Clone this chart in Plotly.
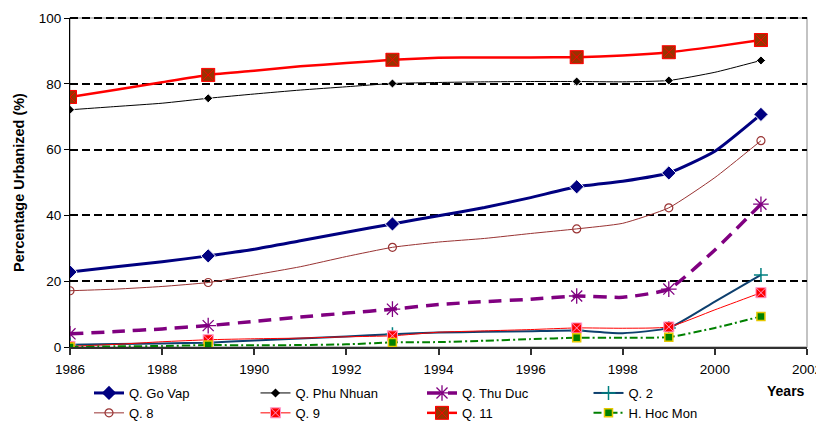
import plotly.graph_objects as go

years = list(range(1986, 2002))
marker_years = [1986, 1989, 1993, 1997, 1999, 2001]

go_vap = [22.8, 24.4, 25.9, 27.7, 29.7, 32.3, 34.9, 37.4, 39.9, 42.4, 45.4, 48.7, 50.4, 52.9, 59.5, 70.7]
phu_nhuan = [72.1, 73.1, 74.1, 75.6, 76.9, 78.1, 79.1, 80.1, 80.4, 80.6, 80.7, 80.7, 80.6, 81.0, 83.5, 87.1]
thu_duc = [4.0, 4.7, 5.5, 6.5, 7.8, 9.1, 10.3, 11.5, 12.9, 13.8, 14.5, 15.5, 15.1, 17.6, 29.5, 43.4]
q2 = [0.7, 0.9, 1.1, 1.3, 2.0, 2.6, 3.2, 3.9, 4.4, 4.6, 4.8, 5.0, 4.2, 5.8, 13.8, 21.9]
q8 = [17.1, 17.6, 18.4, 19.6, 21.9, 24.4, 27.5, 30.3, 31.9, 33.0, 34.5, 35.9, 37.6, 42.3, 51.5, 62.7]
q9 = [0.2, 0.8, 1.6, 2.2, 2.5, 2.7, 3.1, 3.4, 4.5, 4.9, 5.3, 5.8, 5.7, 6.1, 11.3, 16.5]
q11 = [76.0, 78.2, 80.5, 82.7, 84.0, 85.3, 86.3, 87.3, 87.9, 88.0, 88.0, 88.1, 88.6, 89.6, 91.3, 93.3]
hoc_mon = [0.0, 0.2, 0.3, 0.6, 0.5, 0.6, 0.8, 1.4, 1.5, 1.9, 2.4, 2.8, 2.8, 3.0, 5.8, 9.3]

series = [
    ("Q. Go Vap", go_vap, dict(color="#000080", width=3), dict(symbol="diamond", size=11, color="#000080")),
    ("Q. Phu Nhuan", phu_nhuan, dict(color="#000000", width=1), dict(symbol="diamond", size=7, color="#000000")),
    ("Q. Thu Duc", thu_duc, dict(color="#800080", width=3.5, dash="13px,8px"),
     dict(symbol="asterisk-open", size=13, color="#800080", line=dict(color="#800080", width=1.3))),
    ("Q. 2", q2, dict(color="#0d3f6e", width=2),
     dict(symbol="cross-thin-open", size=10, color="#008080", line=dict(color="#008080", width=1.5))),
    ("Q. 8", q8, dict(color="#993333", width=1),
     dict(symbol="circle-open", size=8, color="#993333", line=dict(color="#993333", width=1.2))),
    ("Q. 9", q9, dict(color="#ff0000", width=1),
     dict(symbol="square-x", size=10, color="#ff0000", line=dict(color="#ff99cc", width=1))),
    ("Q. 11", q11, dict(color="#ff0000", width=2.5),
     dict(symbol="square-x", size=13, color="#993300", line=dict(color="#ff0000", width=1))),
    ("H. Hoc Mon", hoc_mon, dict(color="#008000", width=2, dash="8px,3px,2px,3px"),
     dict(symbol="square", size=8, color="#008000", line=dict(color="#e6c800", width=1.5))),
]

fig = go.Figure()
for name, vals, line, marker in series:
    sizes = [marker["size"] if y in marker_years else 0 for y in years]
    m = dict(marker)
    m["size"] = sizes
    m["opacity"] = 1
    fig.add_trace(go.Scatter(
        x=years, y=vals, mode="lines+markers", name=name, legendgroup=name,
        showlegend=False, line=dict(line, shape="spline", smoothing=0.5), marker=m,
        hoverinfo="x+y+name"))
for name, vals, line, marker in series:
    fig.add_trace(go.Scatter(
        x=[None], y=[None], mode="lines+markers", name=name, legendgroup=name,
        showlegend=True, line=line, marker=dict(marker, opacity=1)))

W, H = 816, 415
fig.update_layout(
    width=W, height=H,
    margin=dict(l=62, r=16.5, t=9.5, b=75.5, autoexpand=False),
    paper_bgcolor="white", plot_bgcolor="white",
    font=dict(family="Arial, Liberation Sans, sans-serif", size=13, color="black"),
    showlegend=True,
    legend=dict(orientation="h", xref="container", yref="container",
                x=81 / W, xanchor="left", y=1 - 370 / H, yanchor="top",
                entrywidth=121.5, entrywidthmode="pixels", tracegroupgap=0,
                font=dict(size=13), bgcolor="rgba(0,0,0,0)"),
    xaxis=dict(range=[1986, 2002], dtick=2, tick0=1986, showgrid=False, zeroline=False,
               showline=True, linecolor="#303030", linewidth=2, ticks="outside",
               ticklen=6, tickcolor="#303030", tickwidth=1.5, automargin=False,
               ticklabelstandoff=3, tickfont=dict(size=13.5)),
    yaxis=dict(range=[0, 100], dtick=20, tick0=0, showgrid=True, gridcolor="black",
               gridwidth=2, griddash="8px,4px", zeroline=False, showline=True,
               linecolor="black", linewidth=1, ticks="outside", ticklen=5,
               tickcolor="black", automargin=False, tickfont=dict(size=13.5),
               title=dict(text="<b>Percentage Urbanized (%)</b>",
                          font=dict(size=14.5), standoff=10)),
    shapes=[
        dict(type="rect", xref="paper", yref="paper", x0=0, x1=1, y0=0, y1=1,
             line=dict(color="#b0b0b0", width=1.5), layer="below"),
        dict(type="line", xref="paper", yref="paper", x0=0, x1=1, y0=1, y1=1,
             line=dict(color="black", width=2, dash="8px,4px"), layer="below"),
    ],
    annotations=[dict(text="<b>Years</b>", xref="paper", yref="paper", x=(786 - 70) / 737.5,
                      y=-(392 - 347.5) / 330, xanchor="center", yanchor="middle",
                      showarrow=False, font=dict(size=14))],
)

fig.write_html("out.html")
